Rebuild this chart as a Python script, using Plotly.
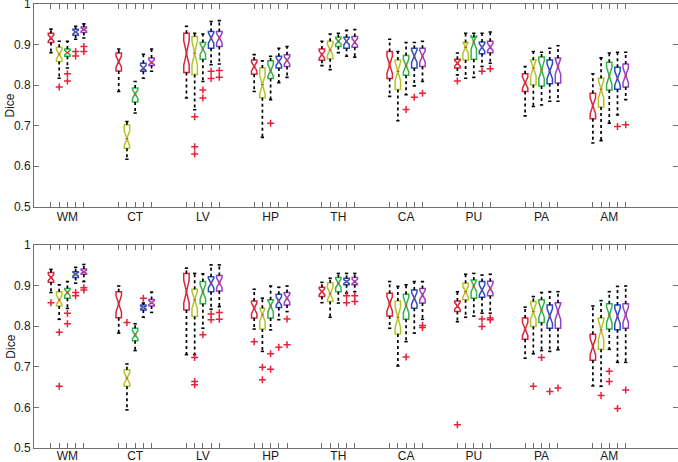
import plotly.graph_objects as go

groups = ["WM", "CT", "LV", "HP", "TH", "CA", "PU", "PA", "AM"]
colors = ["#d7263d", "#b5c42c", "#35b34a", "#2a4fc4", "#9a3fc2"]
n_samples = 25  # used for notch span (1.57*IQR/sqrt(n))

# ---------- top panel (per group: 5 methods) ----------
top_lo = [[0.880, 0.817, 0.842, 0.913, 0.916], [0.784, 0.617, 0.731, 0.817, 0.834],
          [0.768, 0.739, 0.809, 0.850, 0.852], [0.784, 0.671, 0.764, 0.806, 0.819],
          [0.848, 0.838, 0.880, 0.871, 0.869], [0.772, 0.712, 0.776, 0.798, 0.809],
          [0.825, 0.817, 0.819, 0.846, 0.854], [0.724, 0.747, 0.751, 0.760, 0.760],
          [0.657, 0.663, 0.706, 0.726, 0.764]]
top_q1 = [[0.905, 0.858, 0.871, 0.923, 0.930], [0.835, 0.644, 0.758, 0.834, 0.848],
          [0.831, 0.826, 0.864, 0.891, 0.895], [0.827, 0.769, 0.816, 0.842, 0.846],
          [0.861, 0.865, 0.895, 0.891, 0.893], [0.816, 0.789, 0.824, 0.842, 0.846],
          [0.842, 0.862, 0.864, 0.877, 0.880], [0.784, 0.801, 0.798, 0.803, 0.805],
          [0.717, 0.746, 0.788, 0.790, 0.795]]
top_med = [[0.916, 0.876, 0.880, 0.931, 0.937], [0.858, 0.668, 0.778, 0.842, 0.856],
           [0.879, 0.879, 0.889, 0.916, 0.916], [0.846, 0.801, 0.836, 0.858, 0.861],
           [0.875, 0.887, 0.908, 0.908, 0.906], [0.850, 0.834, 0.848, 0.871, 0.871],
           [0.854, 0.893, 0.906, 0.893, 0.894], [0.806, 0.842, 0.838, 0.834, 0.846],
           [0.749, 0.790, 0.823, 0.817, 0.824]]
top_q3 = [[0.928, 0.893, 0.889, 0.938, 0.943], [0.879, 0.702, 0.793, 0.854, 0.867],
          [0.928, 0.920, 0.905, 0.932, 0.932], [0.862, 0.842, 0.860, 0.871, 0.875],
          [0.889, 0.908, 0.918, 0.918, 0.920], [0.883, 0.862, 0.873, 0.891, 0.891],
          [0.864, 0.905, 0.918, 0.906, 0.908], [0.828, 0.862, 0.869, 0.862, 0.867],
          [0.780, 0.817, 0.856, 0.844, 0.852]]
top_hi = [[0.938, 0.908, 0.908, 0.945, 0.951], [0.889, 0.710, 0.809, 0.876, 0.889],
          [0.945, 0.928, 0.926, 0.957, 0.959], [0.875, 0.860, 0.871, 0.891, 0.895],
          [0.908, 0.926, 0.928, 0.935, 0.937], [0.913, 0.883, 0.905, 0.905, 0.908],
          [0.879, 0.928, 0.928, 0.928, 0.931], [0.846, 0.883, 0.881, 0.891, 0.897],
          [0.828, 0.867, 0.879, 0.881, 0.881]]
top_out_grp = [0, 0, 0, 0, 0, 0, 0, 2, 2, 2, 2, 2, 2, 2, 2, 2, 3, 5, 5, 5, 6, 6, 6, 8, 8]
top_out_box = [1, 2, 2, 3, 3, 4, 4, 1, 1, 1, 2, 2, 3, 3, 4, 4, 2, 2, 3, 4, 0, 3, 4, 3, 4]
top_out_val = [0.795, 0.828, 0.810, 0.883, 0.872, 0.895, 0.883,
               0.722, 0.648, 0.630, 0.788, 0.768, 0.834, 0.816, 0.836, 0.819,
               0.706, 0.740, 0.770, 0.780, 0.810, 0.834, 0.840, 0.698, 0.702]

# ---------- bottom panel ----------
bot_lo = [[0.883, 0.817, 0.844, 0.906, 0.910], [0.783, 0.594, 0.740, 0.822, 0.834],
          [0.730, 0.730, 0.795, 0.842, 0.848], [0.793, 0.738, 0.791, 0.816, 0.836],
          [0.858, 0.822, 0.857, 0.881, 0.885], [0.795, 0.702, 0.762, 0.783, 0.817],
          [0.811, 0.822, 0.825, 0.832, 0.832], [0.721, 0.732, 0.740, 0.738, 0.742],
          [0.653, 0.652, 0.743, 0.711, 0.711]]
bot_q1 = [[0.908, 0.850, 0.869, 0.920, 0.928], [0.821, 0.652, 0.764, 0.840, 0.850],
          [0.840, 0.824, 0.855, 0.885, 0.887], [0.820, 0.793, 0.820, 0.846, 0.852],
          [0.873, 0.861, 0.885, 0.902, 0.902], [0.825, 0.781, 0.817, 0.844, 0.857],
          [0.836, 0.865, 0.869, 0.871, 0.875], [0.768, 0.799, 0.809, 0.795, 0.795],
          [0.716, 0.743, 0.793, 0.791, 0.795]]
bot_med = [[0.920, 0.865, 0.883, 0.928, 0.934], [0.855, 0.672, 0.779, 0.846, 0.858],
           [0.885, 0.865, 0.885, 0.906, 0.907], [0.844, 0.828, 0.850, 0.862, 0.869],
           [0.885, 0.880, 0.906, 0.910, 0.910], [0.855, 0.822, 0.852, 0.869, 0.877],
           [0.850, 0.885, 0.899, 0.889, 0.893], [0.793, 0.836, 0.840, 0.825, 0.836],
           [0.750, 0.791, 0.828, 0.825, 0.828]]
bot_q3 = [[0.932, 0.885, 0.893, 0.934, 0.941], [0.885, 0.693, 0.795, 0.852, 0.866],
          [0.930, 0.891, 0.910, 0.922, 0.925], [0.862, 0.844, 0.865, 0.879, 0.883],
          [0.896, 0.907, 0.920, 0.918, 0.920], [0.881, 0.862, 0.879, 0.889, 0.893],
          [0.862, 0.906, 0.914, 0.910, 0.911], [0.820, 0.861, 0.865, 0.852, 0.858],
          [0.780, 0.820, 0.855, 0.852, 0.855]]
bot_hi = [[0.940, 0.902, 0.910, 0.945, 0.952], [0.899, 0.707, 0.806, 0.857, 0.884],
          [0.943, 0.930, 0.929, 0.951, 0.951], [0.891, 0.869, 0.899, 0.896, 0.899],
          [0.908, 0.918, 0.930, 0.930, 0.930], [0.910, 0.898, 0.902, 0.910, 0.910],
          [0.885, 0.928, 0.930, 0.926, 0.928], [0.847, 0.873, 0.883, 0.885, 0.885],
          [0.850, 0.863, 0.885, 0.898, 0.899]]
bot_out_grp = [0, 0, 0, 0, 0, 0, 0, 0, 0, 1, 1, 2, 2, 2, 2, 2, 2, 2, 2,
               3, 3, 3, 3, 3, 3, 3, 3, 4, 4, 4, 4, 5, 5, 5, 6, 6, 6, 6, 6,
               7, 7, 7, 7, 8, 8, 8, 8, 8]
bot_out_box = [0, 1, 1, 2, 2, 3, 3, 4, 4, 1, 3, 1, 1, 1, 2, 3, 3, 4, 4,
               0, 1, 1, 2, 2, 3, 4, 4, 3, 3, 4, 4, 2, 4, 4, 0, 3, 3, 4, 4,
               1, 2, 3, 4, 1, 2, 2, 3, 4]
bot_out_val = [0.858, 0.785, 0.652, 0.832, 0.806, 0.883, 0.875, 0.895, 0.889,
               0.809, 0.869,
               0.723, 0.664, 0.656, 0.779, 0.830, 0.816, 0.834, 0.817,
               0.762, 0.699, 0.668, 0.732, 0.694, 0.748, 0.818, 0.754,
               0.875, 0.858, 0.875, 0.861,
               0.724, 0.802, 0.797,
               0.557, 0.818, 0.799, 0.820, 0.816,
               0.652, 0.723, 0.639, 0.648,
               0.629, 0.689, 0.664, 0.597, 0.643]

y_ticks = [0.5, 0.6, 0.7, 0.8, 0.9, 1.0]
y_ticktext = ["0.5", "0.6", "0.7", "0.8", "0.9", "1"]

GROUP_STEP = 8.25
BOX_W = 0.66
CAP_HALF = 0.2
MED_HALF = 0.165


def pos(g, k):
    return g * GROUP_STEP + k


fig = go.Figure()


def add_panel(lo, q1, med, q3, hi, og, ob, ov, xa, ya):
    xref = "x" if xa == 1 else f"x{xa}"
    yref = "y" if ya == 1 else f"y{ya}"
    # whiskers
    wx, wy, cx, cy = [], [], [], []
    for g in range(len(groups)):
        for k in range(5):
            p = pos(g, k)
            wx += [p, p, None, p, p, None]
            wy += [q3[g][k], hi[g][k], None, q1[g][k], lo[g][k], None]
            cx += [p - CAP_HALF, p + CAP_HALF, None, p - CAP_HALF, p + CAP_HALF, None]
            cy += [hi[g][k], hi[g][k], None, lo[g][k], lo[g][k], None]
    fig.add_trace(go.Scatter(x=wx, y=wy, mode="lines", xaxis=xref, yaxis=yref,
                             line=dict(color="black", width=1.7, dash="3px,3px"),
                             showlegend=False, hoverinfo="skip"))
    fig.add_trace(go.Scatter(x=cx, y=cy, mode="lines", xaxis=xref, yaxis=yref,
                             line=dict(color="black", width=1.6),
                             showlegend=False, hoverinfo="skip"))
    # boxes
    for k in range(5):
        xs = [pos(g, k) for g in range(len(groups))]
        bq1 = [q1[g][k] for g in range(len(groups))]
        bmed = [med[g][k] for g in range(len(groups))]
        bq3 = [q3[g][k] for g in range(len(groups))]
        span = [1.57 * (bq3[i] - bq1[i]) / n_samples ** 0.5 for i in range(len(groups))]
        fig.add_trace(go.Box(x=xs, q1=bq1, median=bmed, q3=bq3,
                             lowerfence=bq1, upperfence=bq3,
                             notched=True, notchspan=span, notchwidth=0.5,
                             width=BOX_W, whiskerwidth=0,
                             line=dict(color=colors[k], width=1.5),
                             fillcolor="rgba(0,0,0,0)", boxpoints=False,
                             xaxis=xref, yaxis=yref, showlegend=False,
                             hoverinfo="skip"))
    # median lines
    mx, my = [], []
    for g in range(len(groups)):
        for k in range(5):
            p = pos(g, k)
            mx += [p - MED_HALF, p + MED_HALF, None]
            my += [med[g][k], med[g][k], None]
    fig.add_trace(go.Scatter(x=mx, y=my, mode="lines", xaxis=xref, yaxis=yref,
                             line=dict(color="#e0402a", width=1.2),
                             showlegend=False, hoverinfo="skip"))
    # outliers
    fig.add_trace(go.Scatter(x=[pos(g, k) for g, k in zip(og, ob)], y=ov,
                             mode="markers", xaxis=xref, yaxis=yref,
                             marker=dict(symbol="cross-thin", size=5,
                                         line=dict(color="#e8203a", width=1.5)),
                             showlegend=False, hoverinfo="skip"))


add_panel(top_lo, top_q1, top_med, top_q3, top_hi,
          top_out_grp, top_out_box, top_out_val, 1, 1)
add_panel(bot_lo, bot_q1, bot_med, bot_q3, bot_hi,
          bot_out_grp, bot_out_box, bot_out_val, 2, 2)

tickvals = [pos(g, k) for g in range(len(groups)) for k in range(5)]
ticktext = [groups[g] if k == 2 else "" for g in range(len(groups)) for k in range(5)]

font = dict(family="Arial, Liberation Sans, sans-serif", size=12, color="#1a1a1a")
axis_common = dict(showline=True, linecolor="#707070", linewidth=1, mirror="ticks",
                   ticks="inside", ticklen=5, tickcolor="#707070", showgrid=False,
                   zeroline=False, tickfont=font, automargin=False,
                   ticklabeloverflow="allow")
xr = [-2.07, 76.37]

fig.update_layout(
    width=678, height=462,
    margin=dict(l=34, r=0, t=4, b=14, autoexpand=False),
    paper_bgcolor="white", plot_bgcolor="white",
    boxmode="overlay", showlegend=False,
    font=font,
    xaxis=dict(domain=[0, 1], anchor="y", range=xr, tickvals=tickvals,
               ticktext=ticktext, ticklabelstandoff=-1, **axis_common),
    yaxis=dict(domain=[0.5435, 1.0], anchor="x", range=[0.5, 1.0],
               tickvals=y_ticks, ticktext=y_ticktext, **axis_common),
    xaxis2=dict(domain=[0, 1], anchor="y2", range=xr, tickvals=tickvals,
                ticktext=ticktext, ticklabelstandoff=-3, **axis_common),
    yaxis2=dict(domain=[0.0, 0.4572], anchor="x2", range=[0.5, 1.0],
                tickvals=y_ticks, ticktext=y_ticktext, **axis_common),
    annotations=[
        dict(text="Dice", xref="paper", yref="paper", x=-0.037,
             y=(0.5435 + 1.0) / 2, textangle=-90, showarrow=False, font=font,
             xanchor="center", yanchor="middle"),
        dict(text="Dice", xref="paper", yref="paper", x=-0.037,
             y=0.4572 / 2, textangle=-90, showarrow=False, font=font,
             xanchor="center", yanchor="middle"),
    ],
)

fig.write_html("out.html", config={"displayModeBar": False},
               post_script="document.body.style.margin='0';document.body.style.padding='0';")
